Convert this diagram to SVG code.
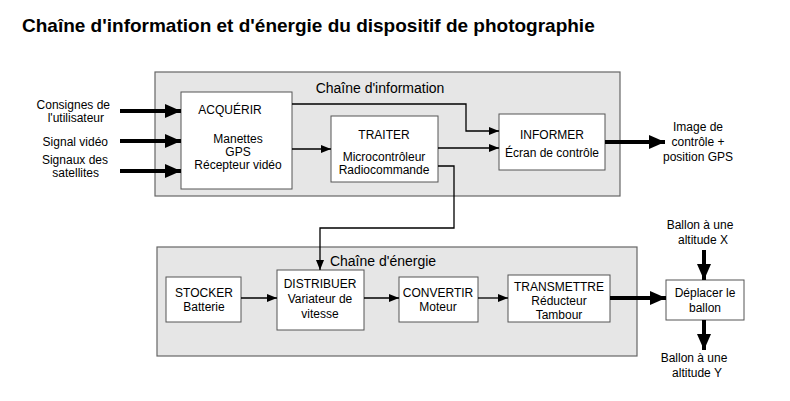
<svg xmlns="http://www.w3.org/2000/svg" width="790" height="401" viewBox="0 0 790 401">
<style>
text{font-family:"Liberation Sans",Arial,sans-serif;font-size:12px;fill:#000}
.m{text-anchor:middle}.r{text-anchor:end}
.b{fill:#fff;stroke:#555;stroke-width:1}
.c{fill:#e6e6e6;stroke:#666;stroke-width:1.2}
.t{fill:none;stroke:#000;stroke-width:1.3}
.k{fill:none;stroke:#000;stroke-width:4}
</style>
<defs>
<marker id="a" markerWidth="10" markerHeight="8" refX="10" refY="4" orient="auto" markerUnits="userSpaceOnUse"><path d="M0,0L10,4L0,8z"/></marker>
<marker id="A" markerWidth="16" markerHeight="14" refX="16" refY="7" orient="auto" markerUnits="userSpaceOnUse"><path d="M0,0L16,7L0,14z"/></marker>
</defs>
<rect width="790" height="401" fill="#fff"/>
<text x="22" y="32" style="font-size:19px;font-weight:bold">Chaîne d'information et d'énergie du dispositif de photographie</text>
<rect class="c" x="155" y="72" width="465" height="124"/>
<text x="380" y="93" class="m" style="font-size:14px">Chaîne d'information</text>
<rect class="c" x="157" y="247" width="480" height="109"/>
<text x="383" y="266" class="m" style="font-size:14px">Chaîne d'énergie</text>
<g id="acquerir"><rect class="b" x="181" y="92" width="111" height="97"/><text x="230" y="114" class="m">ACQUÉRIR</text><text x="238" y="143" class="m">Manettes</text><text x="238" y="156" class="m">GPS</text><text x="238" y="169" class="m">Récepteur vidéo</text></g>
<g id="traiter"><rect class="b" x="331" y="116" width="107" height="66"/><text x="384" y="139" class="m">TRAITER</text><text x="384" y="161" class="m">Microcontrôleur</text><text x="384" y="174" class="m">Radiocommande</text></g>
<g id="informer"><rect class="b" x="499" y="114" width="106" height="56"/><text x="552" y="139" class="m">INFORMER</text><text x="552" y="157" class="m">Écran de contrôle</text></g>
<g id="stocker"><rect class="b" x="166" y="277" width="75" height="45"/><text x="204" y="297" class="m">STOCKER</text><text x="204" y="311" class="m">Batterie</text></g>
<g id="distribuer"><rect class="b" x="277" y="270" width="87" height="60"/><text x="320" y="288" class="m">DISTRIBUER</text><text x="320" y="303" class="m">Variateur de</text><text x="320" y="318" class="m">vitesse</text></g>
<g id="convertir"><rect class="b" x="399" y="277" width="79" height="45"/><text x="438" y="297" class="m">CONVERTIR</text><text x="438" y="311" class="m">Moteur</text></g>
<g id="transmettre"><rect class="b" x="508" y="275" width="102" height="47"/><text x="559" y="291" class="m">TRANSMETTRE</text><text x="559" y="305" class="m">Réducteur</text><text x="559" y="319" class="m">Tambour</text></g>
<g id="deplacer"><rect class="b" x="666" y="280" width="78" height="40"/><text x="705" y="297" class="m">Déplacer le</text><text x="705" y="312" class="m">ballon</text></g>
<g id="labels">
<text x="110" y="109" class="r">Consignes de</text><text x="104" y="122" class="r">l'utilisateur</text>
<text x="108" y="146" class="r">Signal vidéo</text>
<text x="108" y="164" class="r">Signaux des</text><text x="99" y="177" class="r">satellites</text>
<text x="698" y="131" class="m">Image de</text><text x="698" y="146" class="m">contrôle +</text><text x="698" y="161" class="m">position GPS</text>
<text x="700" y="229" class="m">Ballon à une</text><text x="703" y="244" class="m">altitude X</text>
<text x="694" y="362" class="m">Ballon à une</text><text x="697" y="377" class="m">altitude Y</text>
</g>
<g id="connectors">
<path class="k" d="M120,111H181" marker-end="url(#A)"/>
<path class="k" d="M120,141H181" marker-end="url(#A)"/>
<path class="k" d="M120,171H181" marker-end="url(#A)"/>
<path class="t" d="M292,104H466V131H499" marker-end="url(#a)"/>
<path class="t" d="M292,149H331" marker-end="url(#a)"/>
<path class="t" d="M438,148H499" marker-end="url(#a)"/>
<path class="t" d="M438,166H454V228H320V270" marker-end="url(#a)"/>
<path class="k" d="M605,142H665" marker-end="url(#A)"/>
<path class="t" d="M241,298H277" marker-end="url(#a)"/>
<path class="t" d="M364,298H399" marker-end="url(#a)"/>
<path class="t" d="M478,298H508" marker-end="url(#a)"/>
<path class="k" d="M610,298H666" marker-end="url(#A)"/>
<path class="k" d="M704,250V280" marker-end="url(#A)"/>
<path class="k" d="M704,320V350" marker-end="url(#A)"/>
</g>
</svg>
